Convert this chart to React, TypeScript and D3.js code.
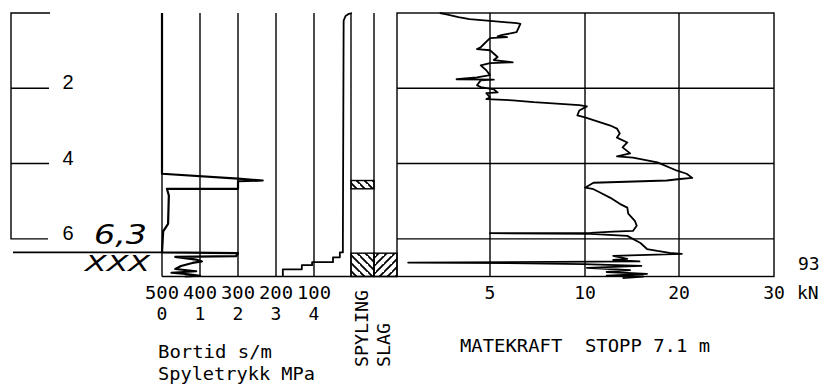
import * as d3 from 'd3'

// depth axis (m)
const depthTicks = [2, 4, 6]
const stopDepth = 7.0
const markDepth = 6.36

// bortid (s/m) and spyletrykk (MPa) share the middle panel
const bortidTicks = [500, 400, 300, 200, 100]
const pressureTicks = [0, 1, 2, 3, 4]

// matekraft (kN), stretched scale
const forceTicks = [5, 10, 20, 30]

const forceDepth = [
  0.0, 0.03, 0.11, 0.16, 0.21, 0.27, 0.29, 0.51, 0.59, 0.62, 0.64, 0.67, 0.91, 0.96, 0.99,
  1.17, 1.25, 1.31, 1.33, 1.39, 1.52, 1.65, 1.71, 1.76, 1.77, 1.79, 1.92, 1.97, 2.03, 2.11,
  2.13, 2.24, 2.29, 2.32, 2.37, 2.45, 2.48, 2.59, 2.72, 2.77, 2.99, 3.07, 3.2, 3.31, 3.44,
  3.57, 3.73, 3.81, 3.84, 3.97, 4.19, 4.27, 4.38, 4.41, 4.45, 4.51, 4.64, 4.67, 4.77, 4.91,
  5.07, 5.17, 5.33, 5.52, 5.65, 5.79, 5.81, 5.84, 5.85, 5.87, 5.92, 6.11, 6.27, 6.32, 6.37,
  6.4, 6.45, 6.53, 6.56, 6.6, 6.63, 6.65, 6.67, 6.72, 6.77, 6.83, 6.88, 6.93, 6.98, 7.0, 7.04
]
const forceKN = [
  2.3, 2.6, 3.3, 3.9, 5.0, 6.4, 6.6, 6.4, 5.6, 5.4, 5.9, 5.0, 4.5, 4.3, 5.0,
  5.4, 5.2, 6.2, 5.0, 4.5, 4.8, 5.0, 4.3, 3.2, 5.2, 4.5, 4.3, 4.5, 5.2, 5.4,
  4.8, 5.0, 4.8, 6.2, 7.3, 9.7, 10.2, 9.7, 9.6, 10.0, 12.7, 13.4, 13.7, 13.4, 14.5,
  14.0, 14.8, 13.4, 15.1, 17.7, 19.8, 20.8, 21.4, 20.1, 18.7, 10.9, 10.0, 10.8, 11.6, 12.7,
  13.7, 14.5, 14.6, 15.3, 15.5, 15.1, 13.0, 10.6, 5.0, 10.6, 14.5, 15.9, 16.6, 17.7, 19.0,
  20.3, 13.0, 14.5, 13.0, 15.8, 0.6, 7.0, 9.9, 16.0, 10.2, 14.8, 12.3, 16.6, 12.3, 16.2, 14.0
]

const pressureDepth = [
  0, 4.27, 4.4, 4.45, 4.47, 4.67, 4.67, 4.85, 5.6, 5.8, 6.36, 6.38, 6.46, 6.48, 6.55,
  6.6, 6.64, 6.72, 6.8, 6.86, 6.9, 6.94, 6.98, 7.0
]
const pressureMPa = [
  0, 0, 2.0, 2.65, 2.0, 2.0, 0.13, 0.18, 0.16, 0.03, 0, 2.0, 1.95, 0.35, 0.9,
  1.05, 0.8, 0.5, 0.35, 0.9, 0.25, 0.7, 1.0, 0.6
]

const bortidDepth = [0, 0.02, 0.08, 0.2, 6.0, 6.36, 6.36, 6.49, 6.49, 6.62, 6.62, 6.7, 6.7, 6.81, 6.81, 7.0]
const bortidSm = [0, 8, 17, 22, 24, 24, 32, 32, 50, 50, 105, 105, 132, 132, 182, 182]

const flushIntervals = [[4.45, 4.67], [6.38, 7.0]]
const hammerIntervals = [[6.38, 7.0]]

const MONO = '"DejaVu Sans Mono", monospace'

function T({ x, y, children, len, anchor = 'start', size = 18, transform }: any) {
  return (
    <text x={x} y={y} fontFamily={MONO} fontSize={size} textAnchor={anchor} transform={transform}
      textLength={len} lengthAdjust={len ? 'spacingAndGlyphs' : undefined} fill="#000"
      style={{ whiteSpace: 'pre' }}>
      {children}
    </text>
  )
}

export default function App() {
  const y = d3.scaleLinear().domain([0, stopDepth]).range([13, 276.5])
  const xForce = d3.scaleLinear().domain([0, 5, 10, 20, 30]).range([397, 490, 585, 679, 774])
  const xPress = d3.scaleLinear().domain([0, 4]).range([162, 314])
  const xBort = d3.scaleLinear().domain([500, 100]).range([162, 314])

  const top = y(0)
  const bottom = y(stopDepth)
  const flushCol = [xBort(0) - 1, 374]
  const hammerCol = [374, xForce(0)]

  const forceLine = d3.line<number>().x((_, i) => xForce(forceKN[i])).y(d => y(d))(forceDepth)
  const pressLine = d3.line<number>().x((_, i) => xPress(pressureMPa[i])).y(d => y(d))(pressureDepth)
  const bortLine = d3.line<number>().x((_, i) => xBort(bortidSm[i])).y(d => y(d))(bortidDepth)

  const grid = { stroke: '#000', strokeWidth: 1.4, fill: 'none' }
  const curve = { stroke: '#000', strokeWidth: 1.8, fill: 'none', strokeLinejoin: 'round' as const }

  return (
    <svg width={827} height={387} style={{ position: 'absolute', left: 0, top: 0, background: '#fff' }}>
      <defs>
        <pattern id="hatchA" patternUnits="userSpaceOnUse" width="8" height="8">
          <path d="M-2,-2 L10,10 M-6,2 L2,10 M6,-6 L14,2" stroke="#000" strokeWidth="1.8" />
        </pattern>
        <pattern id="hatchB" patternUnits="userSpaceOnUse" width="8" height="8">
          <path d="M-2,10 L10,-2 M-6,6 L2,-2 M6,14 L14,6" stroke="#000" strokeWidth="1.8" />
        </pattern>
      </defs>

      {/* depth axis */}
      <path d={`M50,${top} H11 V${y(6)} H48`} {...grid} />
      {depthTicks.slice(0, 2).map(d => (
        <line key={d} x1={11} x2={49} y1={y(d)} y2={y(d)} {...grid} />
      ))}
      {depthTicks.map(d => (
        <text key={d} x={68} y={y(d) + 1} fontFamily="Liberation Sans, Arial, sans-serif" fontSize={20} textAnchor="middle">{d}</text>
      ))}

      {/* stop annotation */}
      <line x1={13} x2={xPress(0)} y1={y(markDepth)} y2={y(markDepth)} stroke="#000" strokeWidth={1.6} />
      <text x={94} y={244} fontFamily="DejaVu Sans, sans-serif" fontStyle="italic" fontSize={26} textLength={53} lengthAdjust="spacingAndGlyphs">6,3</text>
      <text x={85} y={271} fontFamily="DejaVu Sans, sans-serif" fontStyle="italic" fontSize={21} textLength={65} lengthAdjust="spacingAndGlyphs">XXX</text>

      {/* middle panel grid */}
      {bortidTicks.map(b => (
        <line key={b} x1={xBort(b)} x2={xBort(b)} y1={top} y2={bottom} {...grid} />
      ))}
      <line x1={xPress(0)} x2={xForce(0)} y1={bottom} y2={bottom} {...grid} />
      {bortidTicks.map((b, i) => (
        <g key={b}>
          <T x={xBort(b)} y={299} anchor="middle" len={34}>{b}</T>
          <T x={xPress(pressureTicks[i])} y={320} anchor="middle">{pressureTicks[i]}</T>
        </g>
      ))}
      <T x={158} y={358} len={114}>Bortid s/m</T>
      <T x={158} y={380} len={157}>Spyletrykk MPa</T>

      {/* spyling / slag columns */}
      {flushIntervals.map(([a, b], i) => (
        <rect key={i} x={flushCol[0]} y={y(a)} width={flushCol[1] - flushCol[0]} height={y(b) - y(a)} fill="url(#hatchA)" stroke="#000" strokeWidth={1.4} />
      ))}
      {hammerIntervals.map(([a, b], i) => (
        <rect key={i} x={hammerCol[0]} y={y(a)} width={hammerCol[1] - hammerCol[0]} height={y(b) - y(a)} fill="url(#hatchB)" stroke="#000" strokeWidth={1.4} />
      ))}
      <line x1={flushCol[0]} x2={flushCol[0]} y1={top} y2={bottom} {...grid} />
      <line x1={374} x2={374} y1={top} y2={bottom} {...grid} />
      <T x={0} y={0} len={77} transform="translate(368,367) rotate(-90)">SPYLING</T>
      <T x={0} y={0} len={44} transform="translate(390,367) rotate(-90)">SLAG</T>

      {/* middle panel curves */}
      <path d={pressLine ?? ''} {...curve} strokeWidth={2.2} />
      <path d={bortLine ?? ''} {...curve} />

      {/* matekraft panel */}
      <rect x={xForce(0)} y={top} width={xForce(30) - xForce(0)} height={bottom - top} {...grid} />
      {forceTicks.slice(0, 3).map(f => (
        <line key={f} x1={xForce(f)} x2={xForce(f)} y1={top} y2={bottom} {...grid} />
      ))}
      {depthTicks.map(d => (
        <line key={d} x1={xForce(0)} x2={xForce(30)} y1={y(d)} y2={y(d)} {...grid} />
      ))}
      {forceTicks.map(f => (
        <T key={f} x={xForce(f)} y={299} anchor="middle">{f}</T>
      ))}
      <T x={797} y={299}>kN</T>
      <T x={798} y={270}>93</T>
      <path d={forceLine ?? ''} {...curve} />
      <T x={460} y={352} len={250}>{'MATEKRAFT  STOPP 7.1 m'}</T>
    </svg>
  )
}
